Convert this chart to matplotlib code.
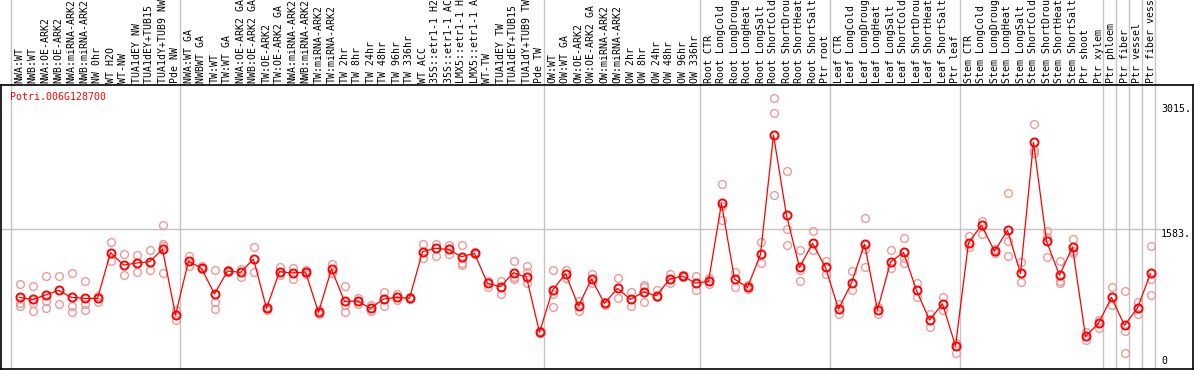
import matplotlib
matplotlib.use("Agg")
import matplotlib.pyplot as plt
import matplotlib.transforms as mtransforms

# ---------------- data ----------------
gene = "Potri.006G128700"

labels = [
    "NWA:WT", "NWB:WT", "NWA:OE-ARK2", "NWB:OE-ARK2", "NWA:miRNA-ARK2", "NWB:miRNA-ARK2",
    "NW 0hr", "WT H2O", "WT-NW", "TUA1dEY NW", "TUA1dEY+TUB15 NW", "TUA1dY+TUB9 NW", "Pde NW",
    "NWA:WT GA", "NWBWT GA", "TW:WT", "TW:WT GA", "NWA:OE-ARK2 GA", "NWB:OE-ARK2 GA",
    "TW:OE-ARK2", "TW:OE-ARK2 GA", "NWA:miRNA-ARK2", "NWB:miRNA-ARK2", "TW:miRNA-ARK2",
    "TW:miRNA-ARK2", "TW 2hr", "TW 8hr", "TW 24hr", "TW 48hr", "TW 96hr", "TW 336hr", "WT ACC",
    "35S::etr1-1 H2O", "35S::etr1-1 ACC", "LMX5::etr1-1 H2O", "LMX5::etr1-1 ACC", "WT-TW",
    "TUA1dEY TW", "TUA1dEY+TUB15 TW", "TUA1dY+TUB9 TW", "Pde TW",
    "OW:WT", "OW:WT GA", "OW:OE-ARK2", "OW:OE-ARK2 GA", "OW:miRNA-ARK2", "OW:miRNA-ARK2",
    "OW 2hr", "OW 8hr", "OW 24hr", "OW 48hr", "OW 96hr", "OW 336hr",
    "Root CTR", "Root LongCold", "Root LongDrought", "Root LongHeat", "Root LongSalt",
    "Root ShortCold", "Root ShortDrought", "Root ShortHeat", "Root ShortSalt", "Ptr root",
    "Leaf CTR", "Leaf LongCold", "Leaf LongDrought", "Leaf LongHeat", "Leaf LongSalt",
    "Leaf ShortCold", "Leaf ShortDrought", "Leaf ShortHeat", "Leaf ShortSalt", "Ptr leaf",
    "Stem CTR", "Stem LongCold", "Stem LongDrought", "Stem LongHeat", "Stem LongSalt",
    "Stem ShortCold", "Stem ShortDrought", "Stem ShortHeat", "Stem ShortSalt", "Ptr shoot",
    "Ptr xylem", "Ptr phloem", "Ptr fiber", "Ptr vessel", "Ptr fiber vessel",
]

group_sizes = [13, 28, 12, 10, 10, 11, 1, 1, 1, 1]

means = [
    792, 769, 819, 873, 792, 781, 781, 1306, 1164, 1187, 1203, 1344, 589,
    1210, 1126, 831, 1095, 1080, 1233, 666, 1088, 1072, 1084, 620, 1118, 746, 750, 666,
    773, 792, 781, 1318, 1356, 1344, 1260, 1299, 953, 915, 1076, 1023, 390,
    873, 1065, 692, 1003, 723, 896, 769, 854, 811, 1000, 1038, 957,
    976, 1874, 1003, 907, 1287, 2660, 1736, 1137, 1414, 1137,
    658, 957, 1406, 646, 1199, 1310, 873, 531, 719, 232,
    1421, 1621, 1325, 1563, 1068, 2576, 1440, 1046, 1371, 343, 493,
    792, 470, 670, 1068,
]

replicates = [
    [942, 723, 692], [923, 723, 635], [1038, 750, 666], [1038, 716], [1072, 692, 620],
    [980, 719, 646], [808, 739], [1433, 1214], [1291, 1046], [1276, 1084], [1333, 1103],
    [1625, 1402, 1383, 1072], [646, 531],
    [1272, 1153], [1157, 1114], [1103, 739, 654], [1103, 1088], [1122, 1030], [1371, 1084],
    [681, 643], [1141, 1046], [1134, 1007], [1107, 1061], [646, 600], [1172, 1076],
    [923, 704, 620], [781, 716], [704, 639], [854, 696], [831, 762], [800, 769],
    [1406, 1241], [1406, 1268], [1394, 1291], [1394, 1183, 1160], [1310, 1287],
    [984, 915], [980, 831], [1206, 1030, 1007], [1153, 1088, 953], [409, 378],
    [1103, 831, 677], [1111, 1011], [754, 631], [1065, 953], [735, 708], [1011, 781],
    [854, 689], [930, 907, 735], [873, 792], [1057, 961], [1049, 1023], [1038, 873],
    [1011, 942], [2092, 1847, 1686], [1084, 911], [934, 892], [1425, 1191],
    [3082, 2910, 1966], [2242, 1575, 1391], [1333, 1103, 976], [1552, 1333], [1210, 1057],
    [712, 604], [1091, 880], [1705, 1348, 1141], [685, 600], [1333, 1126],
    [1475, 1241, 1191], [957, 796], [604, 447], [796, 650], [263, 148],
    [1498, 1375], [1674, 1517], [1352, 1299], [1993, 1444, 1264], [1199, 965],
    [2783, 2488, 2449], [1555, 1486, 1252], [1206, 984, 953], [1463, 1329, 1306],
    [397, 305], [535, 439],
    [911, 700], [865, 409, 148], [735, 600], [1379, 1007, 815],
]

ytick_values = [3015, 1583, 0]
ytick_labels = ["3015.", "1583.", "0"]

# ---------------- figure ----------------
W, H = 1194, 370
fig = plt.figure(figsize=(W / 100, H / 100), dpi=100)
ax_left, ax_right, ax_top, ax_bottom = 1, 1193, 85, 369
ax = fig.add_axes([ax_left / W, (H - ax_bottom) / H,
                   (ax_right - ax_left) / W, (ax_bottom - ax_top) / H])

font = "DejaVu Sans Mono"
fs = 7.1

n = len(labels)
xs = list(range(n))

# x mapping: point i at pixel 19.5 + 13*i
x_lo = (ax_left - 19.5) / 13
x_hi = (ax_right - 19.5) / 13
ax.set_xlim(x_lo, x_hi)
ax.set_ylim(-32, 3236)

for s in ["left", "top", "bottom", "right"]:
    ax.spines[s].set_linewidth(1.2)
    ax.spines[s].set_color("black")
ax.set_xticks([])
ax.set_yticks([])

# horizontal grid line at middle label
xmax_frac = (1160 - ax_left) / (ax_right - ax_left)
ax.axhline(ytick_values[1], xmin=0, xmax=xmax_frac, color="#c4c4c4", lw=1.0, zorder=0)

# vertical group separators (extend into the label area)
top_frac = 1 + ax_top / (ax_bottom - ax_top)
starts = [0]
for g in group_sizes:
    starts.append(starts[-1] + g)
for s in starts:
    ax.axvline(s - 0.65, ymin=0, ymax=top_frac, color="#c4c4c4", lw=1.0,
               clip_on=False, zorder=0)

# replicates
rx, ry = [], []
for i, reps in enumerate(replicates):
    for v in reps:
        rx.append(i)
        ry.append(v)
ax.plot(rx, ry, linestyle="none", marker="o", ms=5.6, mfc="none",
        mec="#ec9a9a", mew=1.0, zorder=2)

# mean line and markers
ax.plot(xs, means, color="#ff0000", lw=0.9, zorder=3)
ax.plot(xs, means, linestyle="none", marker="o", ms=5.8, mfc="none",
        mec="#ff0000", mew=1.4, zorder=4)

# category labels (rotated, above the plot)
lab_tr = mtransforms.blended_transform_factory(ax.transData, ax.transAxes)
for i, lab in enumerate(labels):
    ax.text(i, 1 + 2 / (ax_bottom - ax_top), lab, rotation=90, ha="center", va="bottom",
            fontsize=fs, family=font, color="black", transform=lab_tr, clip_on=False)

# right side value labels
val_tr = mtransforms.blended_transform_factory(fig.transFigure, ax.transData)
for v, t in zip(ytick_values, ytick_labels):
    ax.text(1161 / W, v, t, ha="left", va="bottom" if v == 0 else "top",
            fontsize=fs, family=font, color="black", transform=val_tr, clip_on=False)

# gene title
fig.text(10 / W, 1 - 92 / H, gene, ha="left", va="top", fontsize=fs, family=font,
         color="#ff0000")

fig.savefig("out.png", dpi=100)
